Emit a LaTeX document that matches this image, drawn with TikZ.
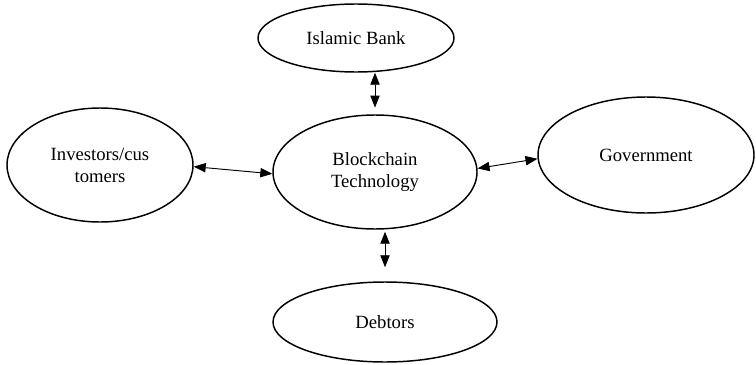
\documentclass[tikz,border=0pt]{standalone}
\usepackage{fontspec}
\setmainfont{Liberation Serif}
\usetikzlibrary{shapes.geometric,arrows.meta}

\tikzset{every picture/.style={line width=0.75pt}}
\tikzset{
  party/.style={draw, ellipse, line width=1.1pt, inner sep=0pt, align=center,
    font=\fontsize{14}{16.5}\selectfont},
  link/.style={line width=0.7pt, {Triangle[length=9pt,width=7pt]}-{Triangle[length=9pt,width=7pt]}}
}

\begin{document}
\begin{tikzpicture}[x=0.75pt,y=0.75pt,yscale=-1,xscale=1]
\useasboundingbox (0,0) rectangle (756,364);

%Shape: Ellipse [Islamic Bank]
\node [party, minimum width=147pt, minimum height=51pt] (ib) at (356,38) {Islamic Bank};
%Shape: Ellipse [Investors]
\node [party, minimum width=139.5pt, minimum height=85.5pt] (inv) at (100,165) {Investors/cus\\tomers};
%Shape: Ellipse [Blockchain]
\node [party, minimum width=153pt, minimum height=85.5pt] (bc) at (375,172) {Blockchain\\Technology};
%Shape: Ellipse [Government]
\node [party, minimum width=162pt, minimum height=87pt] (gov) at (646,155) {Government};
%Shape: Ellipse [Debtors]
\node [party, minimum width=168pt, minimum height=60pt] (db) at (385,322) {Debtors};

%Straight Lines 
\draw [link, shorten >=5pt] (ib.south -| bc.north) -- (bc.north);
%Straight Lines 
\draw [link] (inv.-1.8) -- (bc.181.7);
%Straight Lines 
\draw [link] (bc.2.8) -- (gov.182.6);
%Straight Lines 
\draw [link, shorten <=1.5pt, shorten >=10.5pt] (bc.south -| db.north) -- (db.north);

\end{tikzpicture}
\end{document}
